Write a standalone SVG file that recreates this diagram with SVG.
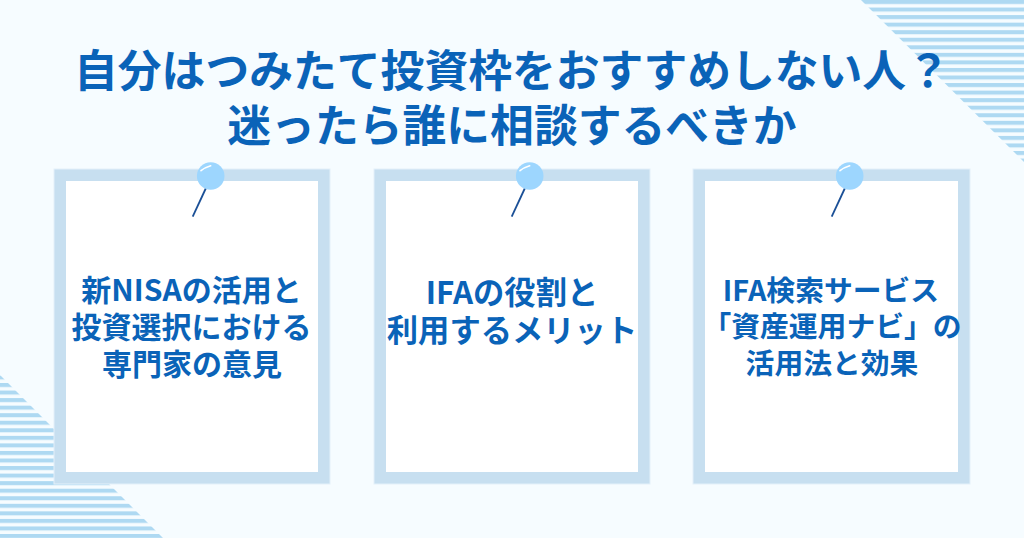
<svg xmlns="http://www.w3.org/2000/svg" width="1024" height="538" viewBox="0 0 1024 538">
<style>
.t{font-family:"Noto Sans CJK JP","Noto Sans",sans-serif;font-weight:700;fill:#0a63b8;text-anchor:middle}
.h{font-size:43.8px}
.c1{font-size:30px}
.c2{font-size:31.3px}
.c3{font-size:28.8px}
.frame{fill:#c7dff0;stroke:#e3f0fa;stroke-width:1}
.in{fill:#fff}
.head{fill:#9dd6fe}
.shine{fill:none;stroke:#fff;stroke-width:1.6;stroke-linecap:round}
.needle{stroke:#1a4f96;stroke-width:1.8}
</style>
<defs>
<pattern id="st1" width="20" height="7.55" patternUnits="userSpaceOnUse">
<rect width="20" height="7.55" fill="#f6fcff"/>
<rect width="20" height="4" fill="#aed9f2"/>
</pattern>
<pattern id="st2" width="20" height="7.55" patternUnits="userSpaceOnUse" y="383">
<rect width="20" height="7.55" fill="#f6fcff"/>
<rect width="20" height="4" fill="#aed9f2"/>
</pattern>
</defs>
<rect width="1024" height="538" fill="#f6fcff"/>
<g id="deco">
<polygon points="861,0 1024,0 1024,162" fill="url(#st1)"/>
<polygon points="0,375 163,538 0,538" fill="url(#st2)"/>
</g>
<g id="title">
<text class="t h" x="512" y="87">自分はつみたて投資枠をおすすめしない人？</text>
<text class="t h" x="512" y="142">迷ったら誰に相談するべきか</text>
</g>
<g id="card1">
<rect class="frame" x="54" y="169" width="276" height="315"/>
<rect class="in" x="66" y="181" width="252" height="291"/>
<line class="needle" x1="206" y1="188" x2="192.700" y2="216.700"/>
<circle class="head" cx="210.700" cy="176" r="13.800"/>
<path class="shine" d="M201,170.700 Q204.500,167.500 210.700,165.700"/>
<text class="t c1" x="191.500" y="300.500">新NISAの活用と</text>
<text class="t c1" x="191.500" y="337.500">投資選択における</text>
<text class="t c1" x="192" y="374.500">専門家の意見</text>
</g>
<g id="card2">
<rect class="frame" x="374" y="169" width="276" height="315"/>
<rect class="in" x="386" y="181" width="252" height="291"/>
<line class="needle" x1="525" y1="188" x2="511.700" y2="216.700"/>
<circle class="head" cx="529.700" cy="176" r="13.800"/>
<path class="shine" d="M520,170.700 Q523.500,167.500 529.700,165.700"/>
<text class="t c2" x="512" y="303.500">IFAの役割と</text>
<text class="t c2" x="512" y="341.500">利用するメリット</text>
</g>
<g id="card3">
<rect class="frame" x="693" y="169" width="277" height="315"/>
<rect class="in" x="705" y="181" width="253" height="291"/>
<line class="needle" x1="845" y1="188" x2="831.700" y2="216.700"/>
<circle class="head" cx="849.700" cy="176" r="13.800"/>
<path class="shine" d="M840,170.700 Q843.500,167.500 849.700,165.700"/>
<text class="t c3" x="831" y="301">IFA検索サービス</text>
<text class="t c3" x="832" y="337">「資産運用ナビ」の</text>
<text class="t c3" x="832" y="374">活用法と効果</text>
</g>
<g id="connectors"></g>
</svg>
